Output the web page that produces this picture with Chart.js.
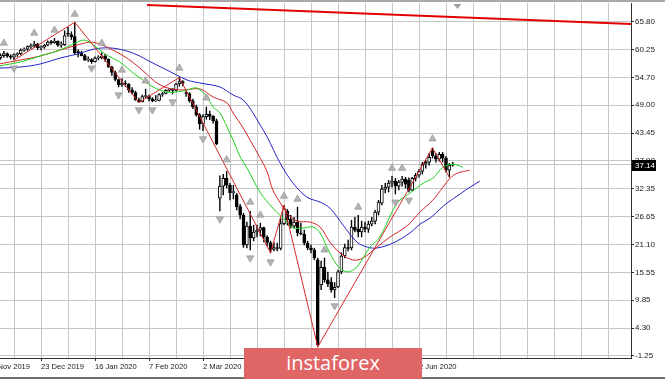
<!DOCTYPE html>
<html><head><meta charset="utf-8">
<script src="https://cdn.jsdelivr.net/npm/chart.js@4.4.0/dist/chart.umd.min.js"></script>
<style>
html,body{margin:0;padding:0;background:#fff;}
#wrap{position:relative;width:665px;height:379px;overflow:hidden;background:#fff;}
#c{position:absolute;left:0;top:0;}
#topline{position:absolute;left:0;top:0;width:665px;height:2px;background:#a8a8a8;}
#botline{position:absolute;left:0;top:377px;width:665px;height:2px;background:#707070;}
#banner{position:absolute;left:244px;top:348px;width:178px;height:31px;background:#e06666;color:#fff;font:20px 'Open Sans',sans-serif;text-align:center;line-height:30px;}
</style></head>
<body><div id="wrap"><canvas id="c" width="665" height="379"></canvas><div id="topline"></div><div id="botline"></div><div id="banner">instaforex</div></div>
<script>
// ---- data (bar index 0 = 29 Nov 2019, daily bars) ----
const firstBar = 4;
const openValues = [
 58.6,59.0,59.4,58.9,58.7,59.2,59.4,60.1,60.3,60.8,
 61.0,61.3,60.6,60.7,61.1,61.7,61.6,61.9,61.1,61.2,
 63.4,63.2,62.8,59.8,59.6,59.0,58.1,58.2,57.8,58.5,
 58.6,58.9,58.3,56.7,55.6,54.2,53.1,53.5,53.3,52.1,
 51.6,50.1,49.7,50.8,50.9,50.3,49.9,50.0,51.2,51.4,
 52.05,52.1,52.0,53.3,53.8,51.5,51.4,49.9,48.7,47.1,
 45.3,46.75,47.2,46.8,45.9,30.4,32.8,34.4,33.0,31.5,
 31.0,28.7,27.0,21.0,24.8,22.4,23.6,24.0,24.5,22.6,
 21.5,20.1,20.5,20.3,25.3,27.8,26.2,24.8,25.6,23.4,
 23.2,21.4,20.4,20.0,18.0,13.0,16.5,14.0,13.5,12.0,
 12.6,15.6,18.8,20.5,20.4,24.6,24.2,23.6,24.6,24.2,
 25.2,25.8,27.6,29.4,32.2,32.6,33.4,33.8,32.8,33.6,
 34.2,34.0,32.0,34.4,35.0,35.8,37.2,37.6,39.8,38.9,
 38.2,39.2,38.4,36.0,37.0];
const highValues = [
 59.4,59.9,59.6,59.2,59.4,59.6,60.4,60.6,61.0,61.4,
 61.9,61.5,61.0,61.3,62.0,62.1,62.5,62.0,61.8,64.0,
 64.7,63.8,65.7,60.2,59.9,59.3,58.8,58.4,58.8,59.0,
 59.6,59.3,58.4,56.9,55.9,54.3,54.4,54.0,53.4,52.6,
 51.9,50.5,51.1,52.3,51.1,50.6,51.0,51.4,51.7,52.2,
 52.4,52.4,53.5,54.6,54.0,52.0,51.6,50.3,49.1,47.4,
 47.2,48.7,47.9,47.0,46.3,34.9,35.2,35.8,33.4,33.0,
 31.4,29.2,27.4,25.6,27.8,25.0,25.0,25.4,24.6,22.9,
 21.8,21.6,21.4,26.4,29.0,28.2,27.0,26.6,28.6,25.4,
 24.0,21.8,21.0,20.4,18.4,17.8,18.4,15.6,14.5,13.5,
 16.0,19.5,21.2,22.0,26.0,26.6,27.0,25.8,25.6,25.8,
 26.6,28.0,30.0,33.0,33.4,34.0,34.8,34.4,34.0,34.8,
 34.6,34.5,34.6,35.4,36.2,37.6,38.0,39.4,40.5,39.4,
 39.6,39.6,38.8,37.4,37.6];
const lowValues = [
 58.2,58.6,58.6,58.3,58.1,58.8,59.1,59.8,60.0,60.4,
 60.6,60.2,60.1,60.4,60.9,61.2,61.4,60.8,60.6,61.0,
 62.8,62.2,59.2,58.7,58.9,58.0,57.8,57.4,57.7,58.1,
 58.3,57.8,56.6,55.0,53.9,52.7,52.8,52.8,51.6,51.3,
 50.0,49.6,49.7,50.5,49.9,49.7,49.8,49.9,50.8,51.3,
 51.8,51.3,51.9,52.8,52.9,50.8,49.6,48.3,46.8,44.2,
 43.9,46.2,46.1,45.4,41.1,27.8,31.0,32.4,30.0,30.2,
 28.0,26.2,20.5,20.4,20.0,21.8,22.6,22.8,21.6,20.8,
 19.4,19.8,19.8,20.0,25.0,25.0,24.4,24.4,22.8,23.0,
 21.0,20.0,19.4,18.0,0.55,12.0,13.5,12.6,11.5,10.4,
 12.4,15.2,18.4,19.8,20.0,23.6,22.6,22.6,23.6,23.5,
 24.8,25.2,27.0,29.0,31.4,31.6,32.6,31.2,32.0,32.8,
 32.4,31.6,31.8,33.8,34.6,35.2,36.4,37.0,38.4,37.6,
 37.8,37.6,35.6,34.6,36.8];
const closeValues = [
 59.0,59.4,58.9,58.7,59.2,59.4,60.1,60.3,60.8,61.0,
 61.3,60.6,60.7,61.1,61.7,61.6,61.9,61.1,61.2,63.0,
 63.3,62.8,59.6,59.6,59.0,58.1,58.2,57.8,58.5,58.6,
 58.9,58.3,56.7,55.6,54.2,53.1,53.5,53.3,52.1,51.6,
 50.1,49.7,50.8,50.95,50.3,49.9,50.0,51.2,51.4,52.05,
 52.1,52.0,53.3,53.8,53.4,51.4,49.9,48.7,47.1,45.3,
 46.75,47.2,46.8,45.9,41.3,32.8,34.4,33.0,31.5,31.7,
 28.7,27.0,21.0,24.8,22.4,23.6,24.0,24.5,22.6,21.5,
 20.1,20.5,20.3,25.3,28.3,26.1,24.8,25.6,23.4,23.2,
 21.4,20.4,20.0,18.4,1.0,16.5,14.0,13.2,12.0,12.5,
 15.6,18.8,20.5,20.3,24.6,24.0,23.6,24.6,24.2,25.2,
 25.8,27.6,29.6,32.2,32.6,33.4,33.8,32.8,33.6,34.2,
 33.2,32.0,34.4,35.0,35.8,37.2,37.6,38.6,38.9,38.2,
 39.2,38.4,36.0,37.0,37.14];

// Alligator lines (values at bar positions)
const jawBars = [3.5,9.8,15.7,21.6,26.7,30.5,33.5,37.3,41.5,45.3,47.4,53.3,59.3,63.1,69.0,72.9,75.9,78.8,80.9,83.0,86.8,90.7,94.8,98.7,101.6,105.5,109.6,112.6,115.6,120.3,125.3,128.3,131.3,134.2,136.3,140.1,143.1,146];
const jawValues = [56.5,56.7,57.3,58.5,59.3,60.1,60.5,60.5,59.9,58.9,58.1,56.1,54.1,53.5,52.7,51.1,50.1,47.5,45.1,42.7,37.5,33.4,30.6,29.6,28.4,25.0,21.6,20.6,20.4,21.4,23.4,25.2,26.4,28.2,29.4,31.2,32.6,33.8];
const teethBars = [3.5,9.8,15.7,21.6,26.7,30.5,33.5,37.3,41.5,45.3,51.3,57.2,63.1,67.0,71.1,72.9,75.9,77.9,80.9,83.0,84.7,86.8,88.9,91.9,95.7,98.7,101.6,104.6,108.4,111.4,115.6,119.4,124.4,128.3,132.1,135.1,137.2,139.3,143];
const teethValues = [57.3,58.1,58.9,60.1,61.1,61.7,61.3,60.1,58.5,56.5,53.1,52.1,52.3,50.7,49.5,47.5,44.5,42.1,38.5,35.7,32.0,29.6,27.4,25.8,25.6,24.6,21.6,19.4,18.0,18.4,20.6,22.6,24.8,27.6,30.0,32.6,34.4,35.4,36.0];
const lipsBars = [3.5,9.8,15.7,21.6,26.1,29.0,32.0,35.0,39.4,43.3,46.2,49.2,53.3,56.3,59.3,62.2,65.2,67.0,69.0,71.1,72.9,75.0,77.0,80.9,84.7,88.9,90.7,93.6,96.6,98.7,100.7,103.7,106.7,109.6,113.5,116.4,121.5,125.3,129.2,132.1,135.1,138.1,141];
const lipsValues = [56.9,57.7,58.9,60.1,61.5,62.1,60.9,59.3,57.7,55.5,54.1,52.7,51.7,51.7,52.1,52.5,50.7,48.7,47.5,44.7,42.1,38.7,36.5,31.6,28.4,25.6,24.4,24.4,24.6,23.4,20.6,17.0,15.6,16.6,20.6,22.6,29.4,31.4,33.4,34.4,36.6,37.2,36.6];

// ZigZag
const zigzagBars = [8,26,45,57,84,88,98,132,137];
const zigzagValues = [58.1,65.7,49.6,54.6,19.4,29.0,0.55,40.5,34.6];

// Fractals (arrow positions)
const fractalUpBars = [5,14,20,26,34,40,47,57,65,71,78,81,88,92,100,110,120,123,132];
const fractalUpValues = [61.5,63.5,64.1,67.3,61.5,56.1,53.9,56.5,50.5,38.1,29.6,27.0,30.8,30.2,20.0,28.6,36.4,36.4,42.3];
const fractalDownBars = [8,31,39,45,49,55,64,69,78,84,103,121,125];
const fractalDownValues = [56.5,56.5,51.1,48.1,48.1,49.7,42.3,26.2,18.4,17.6,8.8,29.6,30.0];

// Trend line
const trendBars = [47.4,191];
const trendValues = [69.15,65.33];

const lastPrice = 37.14;
const shiftMarkerBar = 139.4;

// Axis labels
const dateLabels = ['29 Nov 2019','23 Dec 2019','16 Jan 2020','7 Feb 2020','2 Mar 2020','24 Mar 2020','16 Apr 2020','8 May 2020','2 Jun 2020'];
const dateLabelStep = 16;
const gridStep = 8;
const yTickLabels = ['-1.25','4.30','9.85','15.55','21.10','26.65','32.35','37.90','43.45','49.00','54.70','60.25','65.80'];

// ---- build ----
const toPts = (xs, ys) => xs.map((x, i) => ({x: x, y: ys[i]}));
const wickData = [], bodyData = [], bodyColors = [];
for (let i = 0; i < openValues.length; i++) {
  const n = firstBar + i;
  wickData.push({x: n, y: [lowValues[i], highValues[i]]});
  bodyData.push({x: n, y: [openValues[i], closeValues[i]]});
  bodyColors.push(closeValues[i] >= openValues[i] ? '#ffffff' : '#000000');
}
const FONT = "'Liberation Sans', Arial, sans-serif";
Chart.defaults.font.family = FONT;
Chart.defaults.font.size = 8;
Chart.defaults.color = '#1a1a1a';

const priceTag = {
  id: 'priceTag',
  afterDraw(chart) {
    const {ctx, chartArea, scales} = chart;
    const py = Math.round(scales.y.getPixelForValue(lastPrice));
    ctx.save();
    ctx.fillStyle = '#000';
    ctx.fillRect(chartArea.right + 1, py - 5, 24, 11);
    ctx.fillStyle = '#fff';
    ctx.font = '8px ' + FONT;
    ctx.textBaseline = 'middle';
    ctx.textAlign = 'left';
    ctx.fillText(lastPrice.toFixed(2), chartArea.right + 4, py + 0.5);
    const sx = scales.x.getPixelForValue(shiftMarkerBar);
    ctx.fillStyle = '#a0a0a0';
    ctx.beginPath();
    ctx.moveTo(sx - 4, chartArea.top + 1);
    ctx.lineTo(sx + 4, chartArea.top + 1);
    ctx.lineTo(sx, chartArea.top + 6);
    ctx.closePath();
    ctx.fill();
    ctx.restore();
  }
};

const lineDs = (label, xs, ys, color, order, width, tension) => ({
  type: 'line', label, data: toPts(xs, ys), borderColor: color, borderWidth: width,
  pointRadius: 0, tension: tension, fill: false, order
});

new Chart(document.getElementById('c'), {
  type: 'line',
  data: {
    datasets: [
      {type:'line', label:'price', data: toPts([0, 200], [lastPrice, lastPrice]), borderColor:'#c4c4c4', borderWidth:1, pointRadius:0, order: 20},
      {type:'bar', label:'wick', data: wickData, backgroundColor:'#000', barThickness:1, grouped:false, order: 12, inflateAmount: 0.2},
      {type:'bar', label:'body', data: bodyData, backgroundColor: bodyColors, borderColor:'#000', borderWidth:1, borderSkipped:false, barThickness:3, minBarLength:1, grouped:false, order: 11},
      lineDs('jaw', jawBars, jawValues, '#2424c8', 6, 1, 0.35),
      lineDs('teeth', teethBars, teethValues, '#d42626', 5, 1, 0.35),
      lineDs('lips', lipsBars, lipsValues, '#1ed21e', 4, 1, 0.35),
      lineDs('zigzag', zigzagBars, zigzagValues, '#d42a2a', 3, 1, 0),
      lineDs('trend', trendBars, trendValues, '#e40000', 2, 2.2, 0),
      {type:'line', label:'fracUp', data: toPts(fractalUpBars, fractalUpValues), showLine:false, pointStyle:'triangle', pointRadius:4.2, backgroundColor:'#b4b4b4', borderColor:'#8c8c8c', borderWidth:0.6, order:1},
      {type:'line', label:'fracDn', data: toPts(fractalDownBars, fractalDownValues), showLine:false, pointStyle:'triangle', pointRotation:180, pointRadius:4.2, backgroundColor:'#b4b4b4', borderColor:'#8c8c8c', borderWidth:0.6, order:1}
    ]
  },
  options: {
    responsive: false, animation: false, devicePixelRatio: 1, events: [],
    layout: {autoPadding: false, padding: {top: 3, left: 0, right: 0, bottom: 0}},
    plugins: {legend: {display: false}, tooltip: {enabled: false}},
    scales: {
      x: {
        type: 'linear', position: 'bottom', min: 3.85185, max: 190.8148, offset: false,
        afterBuildTicks: s => { const t = []; for (let n = 0; n <= 188; n += gridStep) t.push({value: n}); s.ticks = t; },
        afterFit: s => { s.height = 21; s.paddingLeft = 0; s.paddingRight = 0; },
        ticks: {
          autoSkip: false, maxRotation: 0, minRotation: 0, align: 'start', padding: 1, color: '#1a1a1a',
          font: {size: 7.6},
          callback: v => (v % dateLabelStep === 0 && v / dateLabelStep < dateLabels.length) ? dateLabels[v / dateLabelStep] : ''
        },
        grid: {
          offset: false, color: '#c6c6c6', lineWidth: 1, borderDash: [3, 3], tickLength: 3,
          tickColor: c => (c.tick && c.tick.label) ? '#303030' : 'rgba(0,0,0,0)', tickBorderDash: []
        },
        border: {display: true, color: '#303030', width: 1}
      },
      y: {
        type: 'linear', position: 'right', min: -1.67, max: 69.55,
        afterBuildTicks: s => {
          const lo = parseFloat(yTickLabels[0]), hi = parseFloat(yTickLabels[yTickLabels.length - 1]);
          s.ticks = yTickLabels.map((l, i) => ({value: lo + i * (hi - lo) / (yTickLabels.length - 1)}));
        },
        afterFit: s => { s.width = 34; s.paddingTop = 0; s.paddingBottom = 0; },
        ticks: {padding: 1, color: '#1a1a1a', callback: (v, i) => yTickLabels[i]},
        grid: {color: '#c6c6c6', lineWidth: 1, borderDash: [3, 3], tickLength: 3, tickColor: '#303030', tickBorderDash: []},
        border: {display: true, color: '#303030', width: 1}
      }
    }
  },
  plugins: [priceTag]
});
</script>
</body></html>
